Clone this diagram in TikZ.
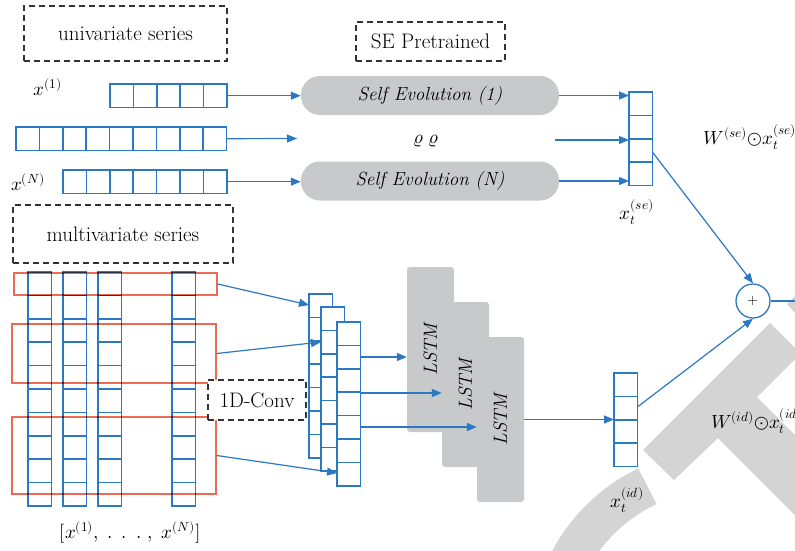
\documentclass[tikz,border=0pt]{standalone}
\usepackage{fontspec}
\usepackage{unicode-math}
\setmathfont{Latin Modern Math}
\usetikzlibrary{arrows.meta,calc}

\definecolor{cellblue}{HTML}{2B78C5}
\definecolor{boxred}{HTML}{EF6A55}
\definecolor{pillgray}{HTML}{C8C9CB}
\definecolor{markgray}{HTML}{D4D4D4}
\definecolor{dashgray}{HTML}{333333}

% a horizontal strip of #4 cells, named #1, top-left corner at (#2,#3)
\newcommand{\hcells}[4]{%
  \node[vecbox, anchor=north west, minimum width=#4*23.4pt, minimum height=23.4pt] (#1) at (#2,#3) {};
  \foreach \k in {1,...,#4}{\ifnum\k<#4\relax\draw[cellsep] ($(#1.north west)+(\k*23.4,0)$) -- ++(0,23.4);\fi}%
}
% a vertical strip of #4 cells, named #1, top-left corner at (#2,#3)
\newcommand{\vcells}[4]{%
  \node[vecbox, anchor=north west, minimum width=23.4pt, minimum height=#4*23.4pt] (#1) at (#2,#3) {};
  \foreach \k in {1,...,#4}{\ifnum\k<#4\relax\draw[cellsep] ($(#1.north west)+(0,\k*23.4)$) -- ++(23.4,0);\fi}%
}

\begin{document}
\begin{tikzpicture}[x=1pt, y=-1pt,
  font=\fontsize{19}{23}\selectfont,
  vecbox/.style={draw=cellblue, line width=1.5pt, fill=white, inner sep=0pt, outer sep=0pt},
  cellsep/.style={draw=cellblue, line width=1.5pt},
  arr/.style={draw=cellblue, line width=1.2pt, -{Triangle[length=10pt,width=8pt]}},
  link/.style={draw=cellblue, line width=1.2pt},
  dashbox/.style={draw=dashgray, line width=1.3pt, dash pattern=on 6pt off 4pt, fill=white, inner sep=0pt,
                  font=\fontsize{21}{25}\selectfont},
  pill/.style={fill=pillgray, rounded corners=19pt, minimum width=258pt, minimum height=39pt, inner sep=0pt,
               font=\fontsize{19}{23}\selectfont\itshape},
  lstm/.style={fill=pillgray, rounded corners=3pt, minimum width=47pt, minimum height=165pt, inner sep=0pt},
  lstmtext/.style={rotate=90, inner sep=0pt, font=\fontsize{19}{23}\selectfont\itshape},
  redbox/.style={draw=boxred, line width=1.4pt, inner sep=0pt},
  sumnode/.style={circle, draw=cellblue, line width=1.3pt, fill=white, minimum size=34pt, inner sep=0pt,
                  font=\fontsize{14}{16}\selectfont},
  wmark/.style={fill=markgray},
  lbl/.style={inner sep=0pt}]

\useasboundingbox (0,0) rectangle (795,550);
\fill[white] (0,0) rectangle (795,550);
\clip (0,0) rectangle (795,550);

% light grey emblem in the lower right
\fill[wmark] (643,450) -- (770,323) -- (800.5,353.5) -- (757,397) -- (900,540)
  -- (880,600) -- (718,438) -- (674,480) -- cycle;
\fill[wmark] ($(720,640)+(244.5:190)$) arc[start angle=244.5, end angle=195, radius=190]
  -- ($(720,640)+(195:150)$) arc[start angle=195, end angle=245, radius=150] -- cycle;
\fill[wmark] (787,304) -- (795,296) -- (795,313) -- cycle;

% captions in dashed frames
\node[dashbox, minimum width=203pt, minimum height=55pt] (uni) at (125.5,33.5) {univariate series};
\node[dashbox, minimum width=149pt, minimum height=39pt] (sep) at (430.5,41.5) {SE Pretrained};
\node[dashbox, minimum width=220pt, minimum height=58pt] (multi) at (123,234) {multivariate series};

% univariate input series
\hcells{u1}{110}{84}{5}
\hcells{u2}{16}{127}{9}
\hcells{u3}{63}{170}{7}
\node[lbl] (lx1) at (48,87) {$x^{(1)}$};
\node[lbl] (lxn) at (28,182) {$x^{(N)}$};

% self evolution blocks
\node[pill] (p1) at (430,95.5) {Self Evolution (1)};
\node[pill] (pn) at (430,181) {Self Evolution (N)};
\node[lbl] (dots) at (426,141) {$\varrho\;\varrho$};

\coordinate (midin) at (297,138.5);
\coordinate (midout) at (555,140);
\draw[arr] (u1.east) -- (u1.east -| p1.west);
\draw[arr] (u2.east) -- (midin);
\draw[arr] (u3.east) -- (u3.east -| pn.west);

% self evolution output vector
\vcells{xse}{629}{92}{4}
\draw[arr] (p1.east) -- (p1.east -| xse.west);
\draw[arr] (midout) -- (midout -| xse.west);
\draw[arr] (pn.east) -- (pn.east -| xse.west);
\node[lbl] (lxse) at (637,212) {$x_t^{(se)}$};
\node[lbl] (lwse) at (750,137) {$W^{(se)}{\odot}x_t^{(se)}$};

% multivariate input columns
\vcells{c1}{28}{272}{10}
\vcells{c2}{63}{272}{10}
\vcells{c3}{98}{272}{10}
\vcells{c4}{172}{272}{10}
\node[lbl] (lmv) at (130,532) {$[x^{(1)},\ .\,\ .\,\ .\ ,\ x^{(N)}]$};

% convolution windows
\begin{scope}[blend mode=multiply]
  \node[redbox, minimum width=203pt, minimum height=22pt] (r1) at (115.5,284) {};
  \node[redbox, minimum width=204pt, minimum height=59pt] (r2) at (114,353.5) {};
  \node[redbox, minimum width=204pt, minimum height=77pt] (r3) at (114,455.5) {};
\end{scope}
\node[dashbox, minimum width=98pt, minimum height=40pt] (conv) at (257,400) {1D-Conv};

% convolution feature maps
\vcells{s1}{309}{294}{7}
\vcells{s2}{321}{307}{7}
\vcells{s3}{337}{322}{7}
\draw[arr] (r1.east) -- ($(s1.north west)+(0,11)$);
\draw[arr] (r2.east) -- ($(s2.north west)+(0,35)$);
\draw[arr] (r3.east) -- ($(s3.north west)+(0,151)$);

% stacked LSTM layers
\node[lstm] (l1) at (430.5,349.5) {};
\node[lstmtext] (l1t) at (l1.center) {LSTM};
\node[lstm] (l2) at (465.5,384.5) {};
\node[lstmtext] (l2t) at (l2.center) {LSTM};
\node[lstm] (l3) at (500.5,419.5) {};
\node[lstmtext] (l3t) at (l3.center) {LSTM};

\draw[arr] ($(s3.north east)+(0,35)$) coordinate (a1) -- (a1 -| l1.west);
\draw[arr] ($(s3.north east)+(0,71)$) coordinate (a2) -- (a2 -| l2.west);
\draw[arr] ($(s3.north east)+(0,105)$) coordinate (a3) -- (a3 -| l3.west);

% LSTM output vector
\vcells{xid}{614}{373}{4}
\draw[arr] (l3.east) -- (l3.east -| xid.west);
\node[lbl] (lxid) at (627,500) {$x_t^{(id)}$};
\node[lbl, anchor=west] (lwid) at (711,421) {$W^{(id)}{\odot}x_t^{(id)}$};

% weighted sum
\node[sumnode] (plus) at (753,301) {$+$};
\draw[arr] ($(xse.north east)+(0,60)$) -- (plus.north);
\draw[arr] ($(xid.north east)+(0,34)$) -- (plus.south);
\coordinate (outend) at (795,301);
\draw[link] (plus.east) -- (outend);

\end{tikzpicture}
\end{document}
